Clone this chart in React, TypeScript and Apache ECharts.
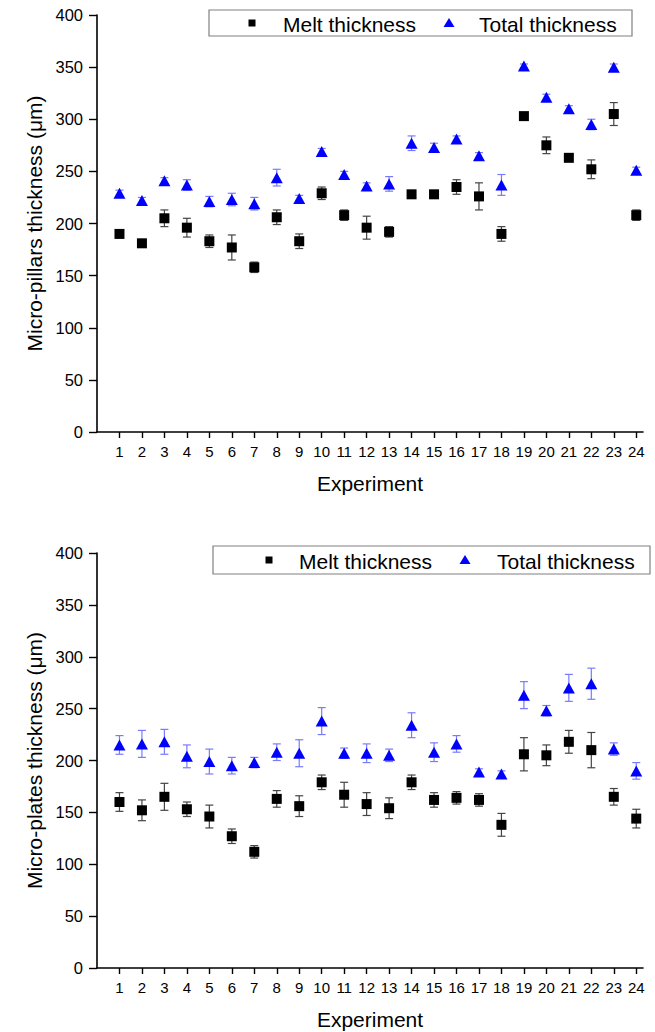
import React, { useEffect, useRef } from "react";
import * as echarts from "echarts";

const experiments = [1, 2, 3, 4, 5, 6, 7, 8, 9, 10, 11, 12, 13, 14, 15, 16, 17, 18, 19, 20, 21, 22, 23, 24];
const yTicks = [0, 50, 100, 150, 200, 250, 300, 350, 400];
const seriesNames = ["Melt thickness", "Total thickness"];
const yTitles = ["Micro-pillars thickness (\u03bcm)", "Micro-plates thickness (\u03bcm)"];
const xTitle = "Experiment";

const pillarsMelt = [190, 181, 205, 196, 183, 177, 158, 206, 183, 229, 208, 196, 192, 228, 228, 235, 226, 190, 303, 275, 263, 252, 305, 208];
const pillarsMeltErr = [3, 3, 8, 9, 6, 12, 5, 7, 7, 6, 5, 11, 5, 2, 2, 7, 13, 7, 2, 8, 2, 9, 11, 5];
const pillarsTotal = [229, 222, 241, 237, 221, 223, 219, 244, 224, 269, 247, 236, 238, 277, 273, 281, 265, 237, 351, 321, 310, 295, 350, 251];
const pillarsTotalErr = [3, 3, 3, 5, 5, 6, 6, 8, 3, 3, 3, 3, 7, 7, 4, 3, 3, 10, 2, 3, 3, 5, 3, 3];

const platesMelt = [160, 152, 165, 153, 146, 127, 112, 163, 156, 179, 167, 158, 154, 179, 162, 164, 162, 138, 206, 205, 218, 210, 165, 144];
const platesMeltErr = [9, 10, 13, 7, 11, 7, 6, 8, 10, 7, 12, 11, 10, 7, 7, 6, 6, 11, 16, 10, 11, 17, 8, 9];
const platesTotal = [215, 216, 218, 204, 199, 195, 198, 208, 207, 238, 207, 207, 205, 234, 208, 216, 189, 187, 263, 248, 270, 274, 211, 190];
const platesTotalErr = [9, 13, 12, 11, 12, 8, 5, 8, 13, 13, 5, 9, 6, 12, 9, 8, 3, 3, 13, 5, 13, 15, 6, 8];

const FONT = "'Liberation Sans', Arial, sans-serif";
const BLUE = "#0000ff";

function errRender(color: string) {
  return (params: any, api: any) => {
    const x = api.value(0);
    const y = api.value(1);
    const e = api.value(2);
    const hi = api.coord([x, y + e]);
    const lo = api.coord([x, y - e]);
    const cap = 4;
    const style = { stroke: color, lineWidth: 1.2 };
    return {
      type: "group",
      children: [
        { type: "line", shape: { x1: hi[0], y1: hi[1], x2: lo[0], y2: lo[1] }, style },
        { type: "line", shape: { x1: hi[0] - cap, y1: hi[1], x2: hi[0] + cap, y2: hi[1] }, style },
        { type: "line", shape: { x1: lo[0] - cap, y1: lo[1], x2: lo[0] + cap, y2: lo[1] }, style },
      ],
    };
  };
}

function zip(vals: number[], errs?: number[]) {
  return experiments.map((x, i) => (errs ? [x, vals[i], errs[i]] : [x, vals[i]]));
}

function axesFor(idx: number) {
  const xAxis = {
    type: "value",
    gridIndex: idx,
    min: 0,
    max: 24.3,
    axisLine: { show: true, lineStyle: { color: "#000", width: 1.6 } },
    axisTick: { show: true, customValues: experiments, length: 6, lineStyle: { color: "#000", width: 1.4 } },
    axisLabel: { customValues: experiments, fontSize: 15, color: "#000", fontFamily: FONT, margin: 12 },
    splitLine: { show: false },
    name: xTitle,
    nameLocation: "middle",
    nameGap: 41,
    nameTextStyle: { fontSize: 21, color: "#000", fontFamily: FONT },
  };
  const yAxis = {
    type: "value",
    gridIndex: idx,
    min: 0,
    max: 400,
    interval: 50,
    axisLine: { show: true, lineStyle: { color: "#000", width: 1.6 } },
    axisTick: { show: true, length: 8, lineStyle: { color: "#000", width: 1.4 } },
    axisLabel: { customValues: yTicks, fontSize: 16.5, color: "#000", fontFamily: FONT, margin: 14 },
    splitLine: { show: false },
    name: yTitles[idx],
    nameLocation: "middle",
    nameGap: 52,
    nameTextStyle: { fontSize: 21, color: "#000", fontFamily: FONT },
  };
  return { xAxis, yAxis };
}

function seriesFor(idx: number, melt: number[], meltErr: number[], total: number[], totalErr: number[]) {
  return [
    {
      type: "custom",
      xAxisIndex: idx,
      yAxisIndex: idx,
      renderItem: errRender("#7a7aff"),
      data: zip(total, totalErr),
      z: 1,
      silent: true,
    },
    {
      type: "custom",
      xAxisIndex: idx,
      yAxisIndex: idx,
      renderItem: errRender("#444"),
      data: zip(melt, meltErr),
      z: 1,
      silent: true,
    },
    {
      name: seriesNames[1],
      type: "scatter",
      xAxisIndex: idx,
      yAxisIndex: idx,
      symbol: "triangle",
      symbolSize: [12, 11],
      itemStyle: { color: BLUE, opacity: 1 },
      data: zip(total),
      z: 3,
    },
    {
      name: seriesNames[0],
      type: "scatter",
      xAxisIndex: idx,
      yAxisIndex: idx,
      symbol: "rect",
      symbolSize: 10,
      itemStyle: { color: "#000", opacity: 1 },
      data: zip(melt),
      z: 3,
    },
  ];
}

function legendGraphic(box: number[], sqX: number, meltX: number, triX: number, totalX: number) {
  const [bx, by, bw, bh] = box;
  const cy = by + bh / 2;
  const txt = { fontSize: 21, fill: "#000", fontFamily: FONT, verticalAlign: "middle", align: "left" };
  return [
    { type: "rect", shape: { x: bx, y: by, width: bw, height: bh }, style: { fill: "#fff", stroke: "#808080", lineWidth: 1.2 }, z: 10 },
    { type: "rect", shape: { x: sqX - 3.5, y: cy - 3.5, width: 7, height: 7 }, style: { fill: "#000" }, z: 11 },
    { type: "text", x: meltX, y: cy + 1, style: { text: seriesNames[0], ...txt }, z: 11 },
    { type: "polygon", shape: { points: [[triX, cy - 5], [triX + 5.5, cy + 4], [triX - 5.5, cy + 4]] }, style: { fill: BLUE }, z: 11 },
    { type: "text", x: totalX, y: cy + 1, style: { text: seriesNames[1], ...txt }, z: 11 },
  ];
}

export default function App() {
  const ref = useRef<HTMLDivElement>(null);
  useEffect(() => {
    if (!ref.current) return;
    const chart = echarts.init(ref.current, undefined, { renderer: "svg" });
    const a0 = axesFor(0);
    const a1 = axesFor(1);
    chart.setOption({
      animation: false,
      backgroundColor: "#fff",
      textStyle: { fontFamily: FONT },
      grid: [
        { left: 97, top: 15, width: 546, height: 417 },
        { left: 97, top: 553, width: 546, height: 415 },
      ],
      xAxis: [a0.xAxis, a1.xAxis],
      yAxis: [a0.yAxis, a1.yAxis],
      series: [
        ...seriesFor(0, pillarsMelt, pillarsMeltErr, pillarsTotal, pillarsTotalErr),
        ...seriesFor(1, platesMelt, platesMeltErr, platesTotal, platesTotalErr),
      ],
      graphic: [
        ...legendGraphic([209, 10, 423, 26], 252, 283, 449, 479),
        ...legendGraphic([213, 546, 437, 28], 269, 299, 465, 497),
      ],
    });
    return () => chart.dispose();
  }, []);
  return (
    <div
      ref={ref}
      style={{ position: "fixed", left: 0, top: 0, width: 655, height: 1032, background: "#fff" }}
    />
  );
}
